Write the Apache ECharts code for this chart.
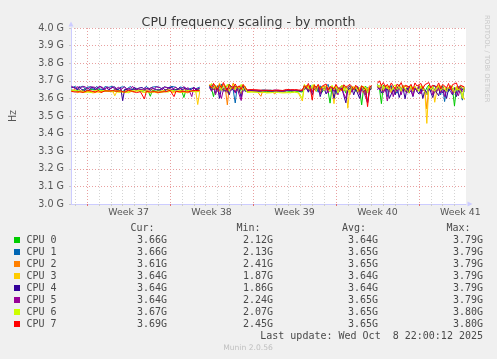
<!DOCTYPE html>
<html>
<head>
<meta charset="utf-8">
<script src="https://cdn.jsdelivr.net/npm/echarts@6/dist/echarts.min.js"></script>
<style>
html,body{margin:0;padding:0;background:#f0f0f0;}
#chart{width:497px;height:359px;}
</style>
</head>
<body>
<div id="chart"></div>
<script>
// ---- chart data (MHz, one sample every 4 hours; null = no data) ----
const title = 'CPU frequency scaling - by month';
const cpuNames = ['CPU 0','CPU 1','CPU 2','CPU 3','CPU 4','CPU 5','CPU 6','CPU 7'];
const cpuColors = ['#00cc00','#0066b3','#ff8000','#ffcc00','#330099','#990099','#ccff00','#ff0000'];
const curVals = ['3.66G','3.66G','3.61G','3.64G','3.64G','3.64G','3.67G','3.69G'];
const minVals = ['2.12G','2.13G','2.41G','1.87G','1.86G','2.24G','2.07G','2.45G'];
const avgVals = ['3.64G','3.65G','3.65G','3.64G','3.64G','3.65G','3.65G','3.65G'];
const maxVals = ['3.79G','3.79G','3.79G','3.79G','3.79G','3.79G','3.80G','3.80G'];
const weekLabels = ['Week 37','Week 38','Week 39','Week 40','Week 41'];
const weekLabelDays = [10.5, 17.5, 24.5, 31.5, 38.5];   // mid-week (days)
const weekStartDays = [7, 14, 21, 28, 35];             // week boundaries (days)
const xStartDay = 5.64, xEndDay = 38.973;               // visible period (days)
const sampleStartDay = 5.667, sampleStepDay = 1/6;      // 4-hour samples
const lastUpdate = 'Last update: Wed Oct  8 22:00:12 2025';
const footer = 'Munin 2.0.56';

const cpu0 = [3648,3652,3641,3645,3650,3638,3646,3655,3642,3640,3651,3644,3647,3639,3653,3645,3641,3649,3643,3652,3638,3646,3650,3642,3644,3655,3640,3647,3651,3636,3645,3649,3641,3653,3643,3638,3648,3644,3650,3640,3612,3646,3652,3641,3645,3649,3637,3644,3651,3640,3646,3642,3648,3639,3653,3644,3641,3605,3647,3650,3642,3646,3639,3652,3644,3648,
 null,null,null,null,
 3672,3655,3610,3668,3660,3645,3675,3640,3663,3658,3680,3650,3642,3670,3662,3635,3655,3668,3660,
 3640,3638,3642,3639,3641,3637,3640,3643,3638,3641,3639,3642,3640,3637,3641,3639,3643,3640,3638,3641,3642,3639,3640,3638,3641,3643,3639,3640,3636,
 3665,3650,3672,3640,3660,3678,3645,3655,3668,3635,3658,3670,3642,3573,3662,3650,3675,3638,3660,3648,3668,3630,3655,3672,3645,3660,3640,3665,3650,3563,3658,3670,3640,3655,3662,
 null,null,
 3680,3660,3570,3675,3650,3668,3640,3672,3655,3630,3665,3678,3645,3660,3670,3638,3658,3675,3648,3662,3640,3670,3655,3668,3635,3660,3676,3645,3658,3668,3640,3665,3650,3672,3645,3660,3638,3668,3655,3557,3662,3645,3670,3650,3660];
const cpu1 = [3660,3655,3668,3650,3662,3658,3670,3652,3664,3657,3666,3650,3660,3668,3655,3662,3649,3667,3658,3663,3652,3669,3656,3661,3650,3664,3658,3666,3653,3660,3668,3651,3662,3657,3665,3650,3661,3655,3669,3652,3660,3664,3653,3667,3658,3662,3650,3666,3656,3661,3654,3668,3659,3663,3651,3665,3657,3660,3669,3653,3662,3658,3667,3655,3660,3664,
 null,null,null,null,
 3660,3678,3650,3670,3640,3665,3682,3655,3668,3630,3672,3660,3645,3574,3668,3650,3675,3640,3662,
 3645,3648,3643,3646,3644,3647,3642,3645,3648,3644,3646,3643,3647,3645,3642,3646,3644,3648,3643,3645,3647,3644,3646,3642,3645,3648,3643,3646,3644,
 3670,3655,3640,3675,3660,3648,3668,3635,3672,3658,3645,3665,3680,3640,3660,3670,3625,3662,3650,3675,3640,3668,3655,3630,3665,3672,3645,3660,3638,3668,3655,3620,3662,3648,3670,
 null,null,
 3665,3650,3675,3640,3668,3610,3660,3672,3645,3655,3630,3668,3650,3675,3640,3662,3655,3670,3635,3660,3648,3672,3640,3665,3655,3632,3670,3645,3660,3675,3640,3658,3620,3668,3582,3655,3640,3670,3648,3662,3630,3668,3650,3590,3660];
const cpu2 = [3645,3640,3650,3637,3648,3643,3652,3639,3646,3641,3649,3636,3647,3644,3651,3638,3645,3642,3650,3640,3646,3637,3649,3643,3641,3652,3638,3646,3644,3649,3640,3647,3636,3650,3643,3645,3639,3648,3641,3646,3644,3650,3637,3647,3642,3649,3639,3645,3651,3640,3646,3643,3638,3649,3641,3647,3644,3640,3650,3636,3646,3642,3648,3639,3645,3641,
 null,null,null,null,
 3675,3660,3685,3650,3670,3640,3668,3680,3655,3563,3672,3650,3688,3660,3645,3670,3655,3680,3650,
 3644,3640,3646,3642,3645,3641,3643,3612,3645,3641,3644,3640,3646,3642,3625,3641,3645,3643,3640,3644,3642,3645,3641,3643,3640,3646,3642,3644,3641,
 3660,3675,3648,3665,3640,3678,3655,3668,3630,3660,3672,3645,3658,3640,3670,3652,3665,3635,3660,3675,3642,3668,3655,3620,3662,3648,3670,3640,3658,3665,3630,3660,3645,3672,3655,
 null,null,
 3672,3655,3668,3640,3675,3650,3662,3630,3670,3648,3665,3678,3640,3660,3655,3672,3638,3665,3650,3668,3645,3675,3655,3662,3640,3540,3670,3650,3660,3630,3668,3645,3672,3655,3640,3665,3650,3672,3638,3660,3668,3645,3655,3670,3648];
const cpu3 = [3640,3636,3645,3632,3642,3638,3646,3634,3641,3637,3644,3631,3640,3636,3643,3633,3639,3645,3635,3641,3637,3643,3615,3638,3642,3634,3640,3636,3644,3632,3639,3643,3635,3641,3637,3645,3633,3640,3638,3642,3634,3641,3636,3644,3630,3639,3643,3635,3640,3637,3645,3632,3641,3638,3643,3634,3640,3636,3642,3631,3639,3644,3635,3640,3565,3638,
 null,null,null,null,
 3680,3665,3650,3675,3640,3688,3660,3645,3672,3630,3668,3655,3680,3640,3665,3660,3625,3672,3650,
 3636,3633,3638,3635,3637,3632,3636,3639,3634,3637,3633,3638,3635,3632,3637,3634,3638,3633,3636,3639,3634,3637,3632,3636,3638,3634,3630,3620,3585,
 3668,3650,3675,3640,3660,3680,3645,3662,3630,3668,3655,3672,3640,3660,3648,3570,3670,3655,3638,3665,3650,3672,3544,3660,3640,3668,3655,3630,3662,3648,3670,3640,3658,3665,3650,
 null,null,
 3660,3675,3645,3668,3650,3672,3640,3662,3655,3635,3670,3648,3660,3675,3640,3665,3652,3670,3638,3660,3668,3645,3658,3672,3640,3458,3660,3650,3665,3578,3640,3670,3655,3648,3668,3640,3660,3675,3645,3655,3668,3640,3660,3650,3592];
const cpu4 = [3665,3655,3660,3648,3668,3652,3658,3645,3662,3650,3656,3664,3648,3660,3653,3667,3650,3657,3662,3646,3659,3653,3666,3649,3655,3661,3587,3652,3663,3648,3657,3650,3665,3646,3659,3654,3662,3649,3656,3660,3645,3658,3663,3650,3655,3648,3661,3653,3645,3659,3652,3664,3647,3656,3650,3662,3648,3655,3660,3646,3657,3652,3665,3649,3654,3658,
 null,null,null,null,
 3668,3645,3660,3630,3672,3600,3655,3665,3640,3660,3620,3670,3648,3635,3662,3650,3605,3668,3640,
 3643,3646,3641,3644,3647,3642,3645,3640,3644,3646,3641,3643,3647,3640,3644,3642,3646,3641,3645,3643,3640,3646,3642,3644,3641,3647,3643,3640,3645,
 3650,3665,3635,3660,3620,3655,3640,3668,3610,3645,3660,3625,3650,3640,3665,3600,3655,3630,3648,3660,3615,3575,3650,3640,3662,3620,3655,3645,3600,3660,3638,3650,3575,3645,3655,
 null,null,
 3650,3665,3630,3655,3640,3660,3600,3590,3648,3620,3665,3605,3640,3655,3598,3660,3630,3645,3610,3660,3640,3625,3655,3600,3648,3620,3660,3635,3605,3650,3640,3615,3660,3630,3648,3600,3655,3640,3620,3660,3610,3645,3630,3655,3640];
const cpu5 = [3670,3660,3655,3668,3650,3664,3658,3667,3652,3661,3666,3655,3663,3650,3668,3657,3662,3648,3665,3659,3654,3667,3651,3660,3664,3649,3658,3666,3653,3662,3657,3669,3650,3661,3655,3664,3648,3660,3667,3652,3659,3663,3650,3666,3656,3661,3648,3665,3654,3660,3667,3650,3658,3664,3652,3661,3656,3668,3649,3662,3655,3610,3660,3666,3651,3658,
 null,null,null,null,
 3660,3640,3672,3620,3658,3665,3600,3650,3668,3635,3660,3645,3670,3630,3655,3665,3588,3650,3662,
 3646,3643,3648,3644,3647,3641,3645,3648,3642,3646,3644,3647,3643,3645,3648,3642,3646,3644,3641,3647,3645,3643,3648,3644,3646,3642,3645,3647,3643,
 3675,3660,3645,3670,3635,3662,3650,3672,3625,3660,3645,3668,3630,3655,3670,3640,3660,3620,3665,3650,3640,3600,3660,3672,3635,3655,3645,3668,3620,3660,3640,3650,3575,3660,3665,
 null,null,
 3668,3650,3672,3630,3660,3585,3645,3665,3610,3655,3640,3668,3620,3660,3645,3630,3665,3650,3615,3660,3640,3668,3625,3650,3660,3635,3645,3668,3620,3655,3640,3660,3630,3665,3610,3650,3640,3668,3625,3655,3645,3615,3660,3640,3650];
const cpu6 = [3642,3637,3645,3634,3640,3646,3635,3641,3638,3644,3633,3640,3646,3636,3642,3639,3645,3634,3641,3637,3643,3635,3640,3646,3636,3642,3638,3644,3633,3640,3645,3637,3641,3635,3643,3639,3646,3634,3640,3637,3644,3636,3642,3639,3645,3633,3641,3638,3643,3636,3640,3645,3634,3641,3637,3644,3639,3635,3642,3646,3636,3640,3643,3637,3641,3639,
 null,null,null,null,
 3670,3685,3655,3675,3660,3680,3645,3670,3658,3680,3640,3665,3675,3650,3668,3655,3680,3645,3670,
 3634,3631,3636,3633,3635,3630,3634,3632,3636,3633,3631,3635,3632,3634,3636,3630,3633,3635,3631,3634,3632,3636,3633,3630,3634,3632,3635,3628,3600,
 3680,3665,3672,3650,3678,3660,3640,3675,3655,3668,3645,3672,3660,3640,3675,3650,3668,3630,3660,3675,3645,3665,3655,3630,3670,3650,3668,3640,3660,3672,3645,3665,3630,3660,3670,
 null,null,
 3675,3660,3680,3648,3670,3655,3672,3640,3665,3678,3650,3668,3640,3672,3658,3665,3630,3675,3650,3668,3660,3640,3672,3655,3665,3620,3670,3650,3668,3640,3662,3675,3645,3660,3670,3640,3665,3650,3672,3630,3660,3668,3645,3600,3665];
const cpu7 = [3640,3645,3636,3642,3638,3646,3634,3641,3644,3637,3643,3639,3635,3641,3645,3633,3640,3643,3636,3642,3638,3644,3634,3640,3637,3643,3639,3635,3642,3646,3636,3640,3644,3633,3641,3638,3645,3597,3640,3643,3636,3642,3639,3645,3634,3641,3637,3643,3638,3640,3646,3635,3610,3641,3644,3637,3642,3639,3645,3636,3640,3643,3638,3645,3641,3644,
 null,null,null,null,
 3675,3660,3685,3668,3650,3678,3660,3690,3665,3645,3680,3668,3655,3682,3660,3672,3650,3678,3665,
 3648,3646,3650,3647,3649,3645,3648,3651,3646,3649,3647,3650,3645,3648,3646,3650,3647,3649,3645,3648,3651,3646,3649,3647,3650,3646,3648,3649,3646,
 3672,3660,3685,3655,3590,3675,3662,3680,3650,3670,3665,3682,3648,3668,3675,3655,3680,3660,3670,3645,3678,3662,3655,3680,3668,3650,3675,3660,3640,3672,3665,3650,3553,3660,3675,
 null,null,
 3685,3700,3672,3690,3665,3680,3660,3688,3670,3655,3682,3668,3690,3660,3675,3685,3665,3680,3650,3688,3670,3662,3685,3655,3678,3668,3690,3660,3675,3682,3665,3688,3655,3680,3670,3660,3685,3650,3678,3668,3688,3655,3675,3682,3665];
const cpuSeries = [cpu0,cpu1,cpu2,cpu3,cpu4,cpu5,cpu6,cpu7];

// ---- build chart ----
const chart = echarts.init(document.getElementById('chart'), null, {renderer:'canvas'});
const dayTicks = [];
for (let d = Math.ceil(xStartDay); d <= Math.floor(xEndDay); d++) if (d % 7 !== 0) dayTicks.push(d);

const series = cpuSeries.map((arr, k) => ({
  type: 'line', name: cpuNames[k], xAxisIndex: 0, yAxisIndex: 0,
  data: arr.map((v, i) => [sampleStartDay + i * sampleStepDay, v == null ? null : v / 1000]),
  showSymbol: false, symbol: 'none', connectNulls: false,
  lineStyle: {width: 1, color: cpuColors[k]}, itemStyle: {color: cpuColors[k]},
  animation: false, silent: true
}));

const sans = 'DejaVu Sans';
const mono = '10px "DejaVu Sans Mono"';
const txt = '#4a4a4a';
const graphic = [];
const colRight = [167, 273, 378, 483];
const headRight = [154.5, 260.5, 366, 470.5];
['Cur:','Min:','Avg:','Max:'].forEach((h, j) => graphic.push({type:'text', x: headRight[j], y: 228,
  style:{text:h, font:mono, fill:txt, textAlign:'right', textVerticalAlign:'middle'}}));
cpuNames.forEach((n, k) => {
  const y = 240 + 12 * k;
  graphic.push({type:'rect', shape:{x:14, y:y-3, width:6, height:6}, style:{fill:cpuColors[k]}});
  graphic.push({type:'text', x:26.5, y:y, style:{text:n, font:mono, fill:txt, textAlign:'left', textVerticalAlign:'middle'}});
  [curVals, minVals, avgVals, maxVals].forEach((vals, j) => graphic.push({type:'text', x: colRight[j], y: y,
    style:{text: vals[k], font: mono, fill: txt, textAlign:'right', textVerticalAlign:'middle'}}));
});
graphic.push({type:'text', x:483, y:336, style:{text:lastUpdate, font:mono, fill:txt, textAlign:'right', textVerticalAlign:'middle'}});
graphic.push({type:'text', x:248, y:348, style:{text:footer, font:'7.6px "DejaVu Sans"', fill:'#c0c0c0', textAlign:'center', textVerticalAlign:'middle'}});
graphic.push({type:'text', x:487, y:15, rotation:-Math.PI/2, style:{text:'RRDTOOL / TOBI OETIKER', font:'6.8px "DejaVu Sans"', fill:'#c8c8c8', textAlign:'left', textVerticalAlign:'middle'}});

const axisBlue = '#ccccff';
const redGrid = '#e8a0a0';
chart.setOption({
  backgroundColor: '#f0f0f0',
  animation: false,
  title: {text: title, left: 'center', top: 11, textStyle: {fontFamily: sans, fontSize: 12.6, fontWeight: 'normal', color: '#3a3a3a'}},
  grid: {left: 66, top: 28, width: 400, height: 176, show: true, backgroundColor: '#ffffff', borderWidth: 0, containLabel: false},
  xAxis: [
    {type: 'value', min: xStartDay, max: xEndDay, position: 'bottom',
     axisLine: {show: true, lineStyle: {color: axisBlue, width: 1}, symbol: ['none','triangle'], symbolSize: [5,5], symbolOffset: [0,4]},
     axisTick: {show: true, customValues: dayTicks, length: 2, lineStyle: {color: '#cccccc'}},
     splitLine: {show: true, lineStyle: {color: '#d4d4d4', width: 1, type: [1,2]}},
     axisLabel: {customValues: weekLabelDays, color: '#555', fontFamily: sans, fontSize: 9.4, margin: 4,
       formatter: v => { let best = 0; weekLabelDays.forEach((w, i) => { if (Math.abs(w - v) < Math.abs(weekLabelDays[best] - v)) best = i; }); return weekLabels[best]; }}},
    {type: 'value', min: xStartDay, max: xEndDay, position: 'bottom',
     axisLine: {show: false},
     axisTick: {show: true, customValues: weekStartDays, length: 2, lineStyle: {color: '#e07070'}},
     splitLine: {show: true, lineStyle: {color: redGrid, width: 1, type: [1,2]}},
     axisLabel: {show: false}}
  ],
  yAxis: {type: 'value', min: 3, max: 4, interval: 0.1,
    axisLine: {show: true, lineStyle: {color: axisBlue, width: 1}, symbol: ['none','triangle'], symbolSize: [5,5], symbolOffset: [0,4]},
    axisTick: {show: true, length: 2, lineStyle: {color: '#cccccc'}},
    splitLine: {show: true, lineStyle: {color: redGrid, width: 1, type: [1,2]}},
    axisLabel: {color: '#555', fontFamily: sans, fontSize: 9.6, margin: 7, formatter: v => v.toFixed(1) + ' G'},
    name: 'Hz', nameLocation: 'middle', nameGap: 53, nameRotate: 90,
    nameTextStyle: {color: '#555', fontFamily: sans, fontSize: 9.6}},
  series: series,
  graphic: graphic
});
</script>
</body>
</html>
